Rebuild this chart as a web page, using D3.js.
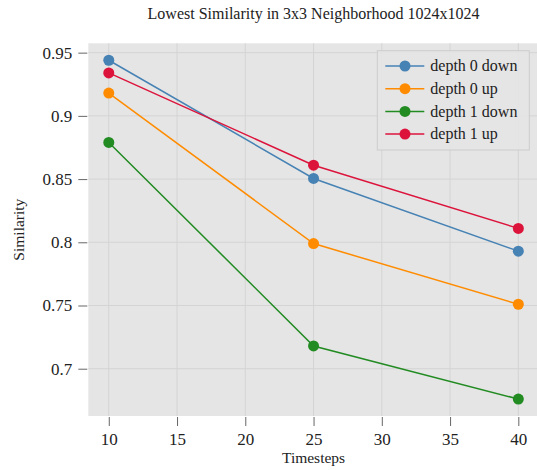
<!DOCTYPE html>
<html>
<head>
<meta charset="utf-8">
<script src="https://cdn.jsdelivr.net/npm/d3@7"></script>
<style>
  html, body { margin: 0; padding: 0; background: #fff; }
  svg text { font-family: "Liberation Serif", "Times New Roman", serif; }
</style>
</head>
<body>
<div id="chart"></div>
<script>
const timesteps = [10, 25, 40];
const depth0Down = [0.944, 0.8505, 0.793];
const depth0Up = [0.918, 0.799, 0.751];
const depth1Down = [0.879, 0.718, 0.676];
const depth1Up = [0.934, 0.861, 0.811];
const seriesNames = ["depth 0 down", "depth 0 up", "depth 1 down", "depth 1 up"];
const seriesColors = ["#4682b4", "#ff8c00", "#228b22", "#dc143c"];
const xTicks = [10, 15, 20, 25, 30, 35, 40];
const yTicks = [0.7, 0.75, 0.8, 0.85, 0.9, 0.95];

const width = 537;
const height = 470;
const plotLeft = 88.3, plotRight = 538.8, plotTop = 43.3, plotBottom = 416;
const serif = "Liberation Serif, Times New Roman, serif";

const series = [depth0Down, depth0Up, depth1Down, depth1Up].map((vals, i) => ({
  name: seriesNames[i],
  color: seriesColors[i],
  points: vals.map((v, j) => ({ x: timesteps[j], y: v }))
}));

const svg = d3.select("#chart").append("svg")
  .attr("width", width)
  .attr("height", height);

const x = d3.scaleLinear().domain([8.5, 41.5]).range([plotLeft, plotRight]);
const y = d3.scaleLinear().domain([0.6626, 0.9574]).range([plotBottom, plotTop]);

// plot background
svg.append("rect")
  .attr("x", plotLeft).attr("y", plotTop)
  .attr("width", plotRight - plotLeft).attr("height", plotBottom - plotTop)
  .attr("fill", "#e5e5e5");

// grid
const grid = svg.append("g").attr("stroke", "#d4d4d4").attr("stroke-width", 1);
grid.selectAll("line.vx").data(xTicks).join("line")
  .attr("x1", d => x(d)).attr("x2", d => x(d))
  .attr("y1", plotTop).attr("y2", plotBottom);
grid.selectAll("line.hy").data(yTicks).join("line")
  .attr("x1", plotLeft).attr("x2", plotRight)
  .attr("y1", d => y(d)).attr("y2", d => y(d));

// axes
const xAxis = svg.append("g")
  .attr("transform", `translate(0,${plotBottom + 1})`)
  .call(d3.axisBottom(x).tickValues(xTicks).tickSize(9).tickPadding(7));
const yAxis = svg.append("g")
  .attr("transform", `translate(${plotLeft - 1},0)`)
  .call(d3.axisLeft(y).tickValues(yTicks).tickSize(9).tickPadding(6)
    .tickFormat(d => String(+d.toFixed(2))));
[xAxis, yAxis].forEach(a => {
  a.attr("font-family", serif);
  a.select(".domain").remove();
  a.selectAll(".tick line").attr("stroke", "#666");
  a.selectAll(".tick text")
    .attr("fill", "#222")
    .style("font-family", serif)
    .style("font-size", "17px");
});

// lines and markers
const line = d3.line().x(d => x(d.x)).y(d => y(d.y));
const g = svg.append("g");
series.forEach(s => {
  g.append("path")
    .datum(s.points)
    .attr("fill", "none")
    .attr("stroke", s.color)
    .attr("stroke-width", 1.5)
    .attr("d", line);
  g.selectAll(null).data(s.points).join("circle")
    .attr("cx", d => x(d.x))
    .attr("cy", d => y(d.y))
    .attr("r", 5.5)
    .attr("fill", s.color);
});

// title and labels
svg.append("text")
  .attr("x", (plotLeft + plotRight) / 2).attr("y", 18.5)
  .attr("text-anchor", "middle")
  .attr("font-size", 16).attr("fill", "#222")
  .text("Lowest Similarity in 3x3 Neighborhood 1024x1024");

svg.append("text")
  .attr("x", (plotLeft + plotRight) / 2).attr("y", 463)
  .attr("text-anchor", "middle")
  .attr("font-size", 15.5).attr("fill", "#222")
  .text("Timesteps");

svg.append("text")
  .attr("transform", `translate(24,${(plotTop + plotBottom) / 2}) rotate(-90)`)
  .attr("text-anchor", "middle")
  .attr("font-size", 15.5).attr("fill", "#222")
  .text("Similarity");

// legend
const legend = svg.append("g").attr("transform", "translate(377.3,50.7)");
legend.append("rect")
  .attr("width", 152).attr("height", 99.3)
  .attr("fill", "#e5e5e5").attr("fill-opacity", 0.85)
  .attr("stroke", "#cccccc").attr("stroke-width", 1);
const item = legend.selectAll("g.item").data(series).join("g")
  .attr("transform", (d, i) => `translate(0,${15.3 + i * 22.7})`);
item.append("line")
  .attr("x1", 8).attr("x2", 47)
  .attr("stroke", d => d.color).attr("stroke-width", 1.5);
item.append("circle")
  .attr("cx", 27.7).attr("r", 5.5)
  .attr("fill", d => d.color);
item.append("text")
  .attr("x", 53).attr("dy", "0.33em")
  .attr("font-size", 16).attr("fill", "#222")
  .text(d => d.name);
</script>
</body>
</html>
